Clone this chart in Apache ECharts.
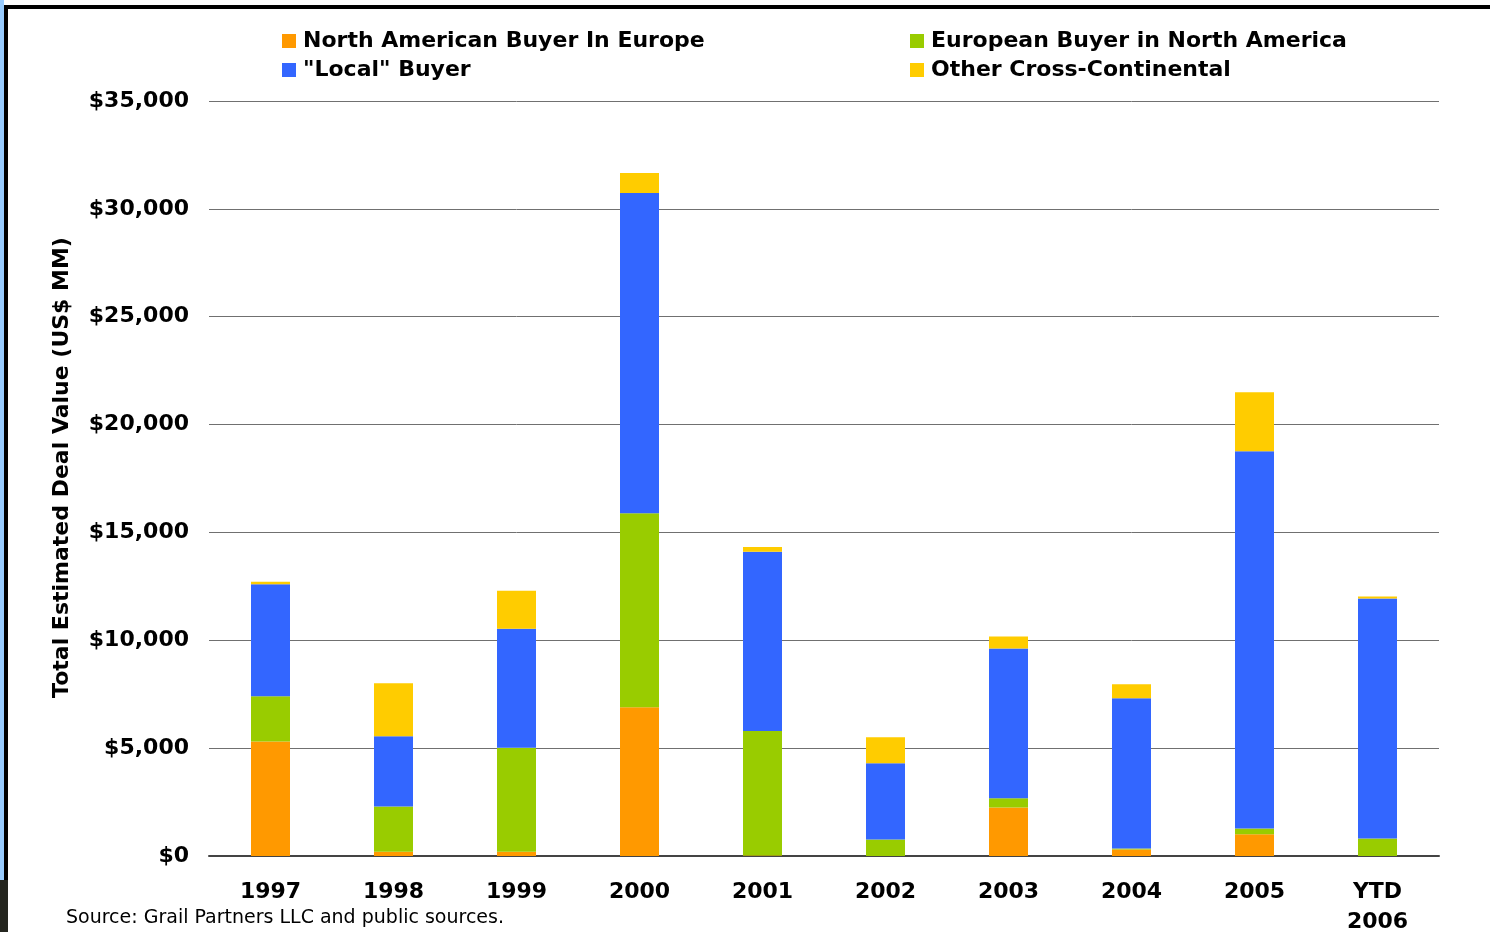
<!DOCTYPE html>
<html>
<head>
<meta charset="utf-8">
<script src="https://cdn.jsdelivr.net/npm/echarts@6/dist/echarts.min.js"></script>
<style>
html,body{margin:0;padding:0;background:#fff;}
#c{width:1492px;height:932px;}
</style>
</head>
<body>
<div id="c"></div>
<script>
var categories = ['1997','1998','1999','2000','2001','2002','2003','2004','2005','YTD\n2006'];
var naBuyerInEurope = [5310, 200, 200, 6890, 20, 0, 2250, 300, 1010, 0];
var euBuyerInNA     = [2090, 2100, 4820, 9000, 5780, 770, 430, 50, 260, 810];
var localBuyer      = [5200, 3250, 5520, 14840, 8300, 3530, 6940, 6960, 17490, 11130];
var otherCross      = [110, 2460, 1760, 930, 230, 1210, 560, 650, 2740, 90];
var yTicks = { min: 0, max: 35000, interval: 5000 };

var font = 'DejaVu Sans, Verdana, sans-serif';
var chart = echarts.init(document.getElementById('c'), null, {renderer: 'canvas'});

function bar(name, data, color) {
  return {
    name: name, type: 'bar', stack: 'total', data: data, barWidth: 39,
    itemStyle: { color: color }, emphasis: { disabled: true }
  };
}

var legendText = { fontSize: 22, fontWeight: 'bold', color: '#000', fontFamily: font, lineHeight: 22, padding: [0, 0, 0, 2] };

chart.setOption({
  animation: false,
  backgroundColor: '#ffffff',
  textStyle: { fontFamily: font },
  grid: { left: 209, right: 53, top: 101, bottom: 76, containLabel: false, outerBoundsMode: 'none' },
  legend: [
    {
      data: ['North American Buyer In Europe', '"Local" Buyer'],
      orient: 'vertical', left: 282, top: 30, padding: 0, itemWidth: 14, itemHeight: 14, itemGap: 7,
      icon: 'rect', textStyle: legendText
    },
    {
      data: ['European Buyer in North America', 'Other Cross-Continental'],
      orient: 'vertical', left: 910, top: 30, padding: 0, itemWidth: 14, itemHeight: 14, itemGap: 7,
      icon: 'rect', textStyle: legendText
    }
  ],
  xAxis: {
    type: 'category', data: categories,
    axisLine: { lineStyle: { color: '#444', width: 2 } },
    axisTick: { show: false },
    axisLabel: { fontSize: 22, fontWeight: 'bold', color: '#000', fontFamily: font, margin: 21, lineHeight: 30, interval: 0 }
  },
  yAxis: {
    type: 'value', min: yTicks.min, max: yTicks.max, interval: yTicks.interval,
    name: 'Total Estimated Deal Value (US$ MM)', nameLocation: 'middle', nameGap: 136,
    nameTextStyle: { fontSize: 22, fontWeight: 'bold', color: '#000', fontFamily: font, padding: [0, 0, 0, 22] },
    axisLine: { show: false }, axisTick: { show: false },
    splitLine: { lineStyle: { color: '#707070', width: 1 } },
    axisLabel: {
      fontSize: 22, fontWeight: 'bold', color: '#000', fontFamily: font, margin: 20,
      formatter: function (v) { return '$' + v.toString().replace(/\B(?=(\d{3})+(?!\d))/g, ','); }
    }
  },
  series: [
    bar('North American Buyer In Europe', naBuyerInEurope, '#FF9900'),
    bar('European Buyer in North America', euBuyerInNA, '#99CC00'),
    bar('"Local" Buyer', localBuyer, '#3366FF'),
    bar('Other Cross-Continental', otherCross, '#FFCC00')
  ],
  graphic: [
    { type: 'rect', left: 0, top: 0, shape: { width: 4, height: 880 }, style: { fill: '#99CCFF' }, silent: true },
    { type: 'rect', left: 0, top: 880, shape: { width: 8, height: 52 }, style: { fill: '#25261F' }, silent: true },
    { type: 'rect', left: 4, top: 5, shape: { width: 4, height: 875 }, style: { fill: '#000' }, silent: true },
    { type: 'rect', left: 4, top: 5, shape: { width: 1486, height: 4 }, style: { fill: '#000' }, silent: true },
    { type: 'text', left: 66, top: 909, style: { text: 'Source: Grail Partners LLC and public sources.', fontSize: 19, fontFamily: font, fill: '#000' }, silent: true }
  ]
});
</script>
</body>
</html>
